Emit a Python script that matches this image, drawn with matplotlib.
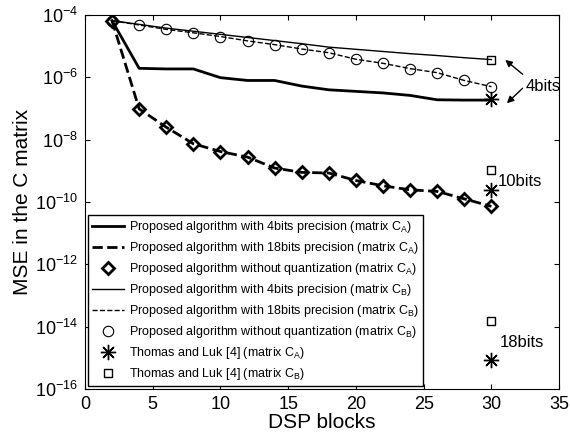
import numpy as np
import matplotlib.pyplot as plt
from matplotlib.ticker import NullLocator

plt.rcParams['font.family'] = ['Liberation Sans', 'DejaVu Sans']
plt.rcParams['mathtext.fontset'] = 'custom'
plt.rcParams['mathtext.rm'] = 'Liberation Sans'
plt.rcParams['mathtext.it'] = 'Liberation Sans'

# DSP blocks
blocks = np.arange(2, 31, 2)

# log10 of MSE
q4_A = [-4.18, -5.71, -5.73, -5.73, -6.01, -6.10, -6.10, -6.28, -6.40, -6.45, -6.50, -6.58, -6.72, -6.73, -6.73]
q18_A = [-4.18, -7.01, -7.60, -8.13, -8.38, -8.56, -8.91, -9.05, -9.07, -9.31, -9.48, -9.61, -9.66, -9.90, -10.14]
noq_A = q18_A
q4_B = [-4.18, -4.30, -4.42, -4.52, -4.62, -4.72, -4.82, -4.92, -5.03, -5.10, -5.17, -5.24, -5.30, -5.37, -5.43]
q18_B = [-4.18, -4.32, -4.46, -4.57, -4.69, -4.83, -4.95, -5.09, -5.21, -5.42, -5.55, -5.72, -5.85, -6.10, -6.30]
noq_B = q18_B

# Thomas and Luk [4] at 30 blocks: 4bits, 10bits, 18bits
tl_blocks = [30, 30, 30]
tl_A = [-6.70, -9.61, -15.06]
tl_B = [-5.43, -8.97, -13.83]

p = lambda v: 10.0 ** np.array(v)

fig = plt.figure(figsize=(5.7, 4.42), dpi=100)
ax = fig.add_axes([0.149, 0.12, 0.832, 0.846])

ax.plot(blocks, p(q4_A), 'k-', lw=2, label='Proposed algorithm with 4bits precision (matrix C$_A$)')
ax.plot(blocks, p(q18_A), 'k--', lw=2, label='Proposed algorithm with 18bits precision (matrix C$_A$)')
ax.plot(blocks, p(noq_A), 'kD', ms=6.5, mfc='none', mew=2, ls='none',
        label='Proposed algorithm without quantization (matrix C$_A$)')
ax.plot(blocks, p(q4_B), 'k-', lw=1, label='Proposed algorithm with 4bits precision (matrix C$_B$)')
ax.plot(blocks, p(q18_B), 'k--', lw=1, label='Proposed algorithm with 18bits precision (matrix C$_B$)')
ax.plot(blocks, p(noq_B), 'ko', ms=7.5, mfc='none', mew=0.8, ls='none',
        label='Proposed algorithm without quantization (matrix C$_B$)')
ax.plot(tl_blocks, p(tl_A), 'k', marker=(8, 2, 0), ms=11, mew=1, ls='none',
        label='Thomas and Luk [4] (matrix C$_A$)')
ax.plot(tl_blocks, p(tl_B), 'ks', ms=5.5, mfc='none', mew=1, ls='none',
        label='Thomas and Luk [4] (matrix C$_B$)')

ax.set_yscale('log')
ax.set_xlim(0, 35)
ax.set_ylim(1e-16, 1e-4)
ax.set_xticks(range(0, 36, 5))
ax.set_yticks([10.0 ** k for k in range(-16, -3, 2)])
ax.yaxis.set_minor_locator(NullLocator())
ax.tick_params(which='both', direction='in', top=True, right=True, labelsize=13)
ax.tick_params(which='major', length=3.5, pad=5)
ax.set_xlabel('DSP blocks', fontsize=15, labelpad=0)
ax.set_ylabel('MSE in the C matrix', fontsize=15, labelpad=2)

ax.text(32.5, 10 ** -6.28, '4bits', fontsize=12, va='center', ha='left')
arrow = dict(arrowstyle='-|>', color='k', lw=1, mutation_scale=10, shrinkA=0, shrinkB=0)
ax.annotate('', xy=(31.02, 10 ** -5.44), xytext=(32.3, 10 ** -5.9), arrowprops=arrow)
ax.annotate('', xy=(31.14, 10 ** -6.83), xytext=(32.3, 10 ** -6.35), arrowprops=arrow)
ax.text(30.5, 10 ** -9.34, '10bits', fontsize=12, va='center', ha='left')
ax.text(30.65, 10 ** -14.5, '18bits', fontsize=12, va='center', ha='left')

leg = ax.legend(loc='lower left', bbox_to_anchor=(0.006, 0.008), fontsize=9,
                fancybox=False, edgecolor='k', framealpha=1, handlelength=2.6,
                labelspacing=0.4, borderpad=0.3, handletextpad=0.4, borderaxespad=0)
leg.get_frame().set_linewidth(1)

fig.savefig('out.png', dpi=100)
